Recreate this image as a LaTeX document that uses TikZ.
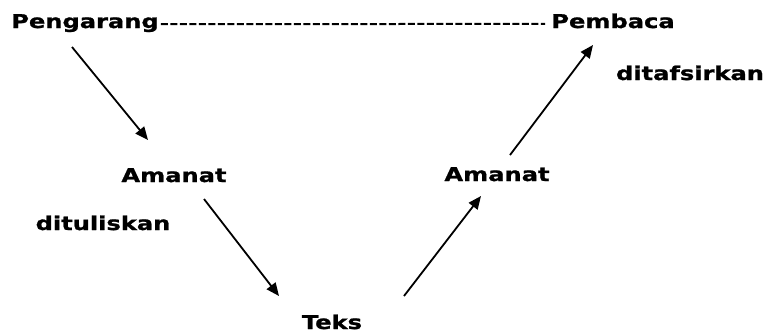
\documentclass[tikz,border=0pt]{standalone}
\usepackage{fontspec}
\newfontfamily\labfont[FakeStretch=1.27,FakeBold=1.2]{DejaVu Sans}
\usetikzlibrary{arrows.meta}
\begin{document}
\begin{tikzpicture}[x=1pt,y=-1pt,
  lab/.style={inner sep=0pt,anchor=base,font=\labfont\bfseries\fontsize{19}{21}\selectfont},
  arr/.style={line width=1.8pt,-{Triangle[length=13pt,width=11pt]}},
  dash line/.style={line width=2pt,dash pattern=on 7pt off 2.5pt}]
\useasboundingbox (0,0) rectangle (768,333);
\node[lab] (peng) at (85,28) {Pengarang};
\node[lab] (pemb) at (613,28) {Pembaca};
\node[lab] (tafs) at (690,80) {ditafsirkan};
\node[lab] (amL) at (174,182) {Amanat};
\node[lab] (tuli) at (103,230) {dituliskan};
\node[lab] (teks) at (332,329) {Teks};
\node[lab] (amR) at (497,181) {Amanat};
\coordinate (a1s) at (72,47);
\coordinate (a1e) at (148,140);
\coordinate (a2s) at (204,199);
\coordinate (a2e) at (279,296);
\coordinate (a3s) at (404,296);
\coordinate (a3e) at (481,196);
\coordinate (a4s) at (510,155);
\coordinate (a4e) at (593,45);
\draw[dash line] ([xshift=2pt,yshift=-1pt]peng.east) -- ([xshift=-6pt,yshift=-3pt]pemb.west);
\draw[arr] (a1s) -- (a1e);
\draw[arr] (a2s) -- (a2e);
\draw[arr] (a3s) -- (a3e);
\draw[arr] (a4s) -- (a4e);
\end{tikzpicture}
\end{document}
